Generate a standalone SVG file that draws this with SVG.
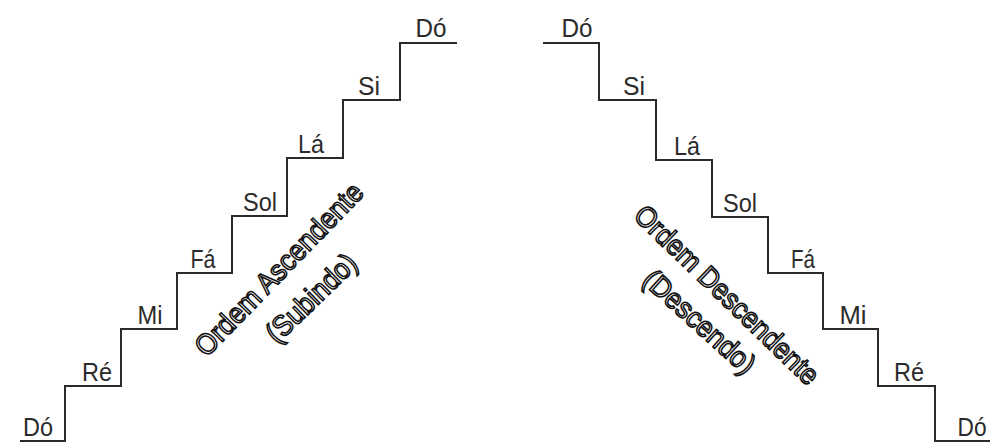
<svg xmlns="http://www.w3.org/2000/svg" width="990" height="443" viewBox="0 0 990 443">
<style>
.step{fill:none;stroke:#2b2b2b;stroke-width:2;stroke-linejoin:miter}
.lbl{font-family:"Liberation Sans",Arial,sans-serif;font-size:25px;fill:#2b2b2b;text-anchor:middle}
.rot{font-family:"Liberation Sans",Arial,sans-serif;font-size:29px;fill:#fff;stroke:#111;stroke-width:1.6;text-anchor:middle}
</style>
<rect width="990" height="443" fill="#fff"/>
<g id="connectors">
<path id="stairs-up" class="step" d="M20,441 H65 V386 H121 V329 H177 V273 H232 V216 H287 V158 H343 V100 H400 V43 H457"/>
<path id="stairs-down" class="step" d="M543,43 H599 V100 H656 V160 H712 V217 H768 V273 H823 V329 H878 V386 H935 V441 H990"/>
</g>
<g id="asc-do1"><text class="lbl" x="38" y="436" textLength="30" lengthAdjust="spacingAndGlyphs">Dó</text></g>
<g id="asc-re"><text class="lbl" x="97" y="381" textLength="30" lengthAdjust="spacingAndGlyphs">Ré</text></g>
<g id="asc-mi"><text class="lbl" x="150" y="324" textLength="25" lengthAdjust="spacingAndGlyphs">Mi</text></g>
<g id="asc-fa"><text class="lbl" x="203" y="268" textLength="25" lengthAdjust="spacingAndGlyphs">Fá</text></g>
<g id="asc-sol"><text class="lbl" x="260" y="211" textLength="34" lengthAdjust="spacingAndGlyphs">Sol</text></g>
<g id="asc-la"><text class="lbl" x="311" y="153" textLength="26" lengthAdjust="spacingAndGlyphs">Lá</text></g>
<g id="asc-si"><text class="lbl" x="369" y="95" textLength="22" lengthAdjust="spacingAndGlyphs">Si</text></g>
<g id="asc-do2"><text class="lbl" x="431" y="37" textLength="31" lengthAdjust="spacingAndGlyphs">Dó</text></g>
<g id="desc-do1"><text class="lbl" x="577" y="37" textLength="31" lengthAdjust="spacingAndGlyphs">Dó</text></g>
<g id="desc-si"><text class="lbl" x="634" y="95" textLength="22" lengthAdjust="spacingAndGlyphs">Si</text></g>
<g id="desc-la"><text class="lbl" x="687" y="155" textLength="26" lengthAdjust="spacingAndGlyphs">Lá</text></g>
<g id="desc-sol"><text class="lbl" x="740" y="212" textLength="34" lengthAdjust="spacingAndGlyphs">Sol</text></g>
<g id="desc-fa"><text class="lbl" x="803" y="268" textLength="24" lengthAdjust="spacingAndGlyphs">Fá</text></g>
<g id="desc-mi"><text class="lbl" x="853" y="324" textLength="27" lengthAdjust="spacingAndGlyphs">Mi</text></g>
<g id="desc-re"><text class="lbl" x="909" y="381" textLength="30" lengthAdjust="spacingAndGlyphs">Ré</text></g>
<g id="desc-do2"><text class="lbl" x="972" y="436" textLength="29" lengthAdjust="spacingAndGlyphs">Dó</text></g>
<g id="asc-caption">
<text class="rot" transform="translate(286,276) rotate(-46)" textLength="228" lengthAdjust="spacingAndGlyphs">Ordem Ascendente</text>
<text class="rot" transform="translate(318,305) rotate(-44)" textLength="114" lengthAdjust="spacingAndGlyphs">(Subindo)</text>
</g>
<g id="desc-caption">
<text class="rot" transform="translate(720,302) rotate(44)" textLength="244" lengthAdjust="spacingAndGlyphs">Ordem Descendente</text>
<text class="rot" transform="translate(693,329) rotate(42)" textLength="140" lengthAdjust="spacingAndGlyphs">(Descendo)</text>
</g>
</svg>
